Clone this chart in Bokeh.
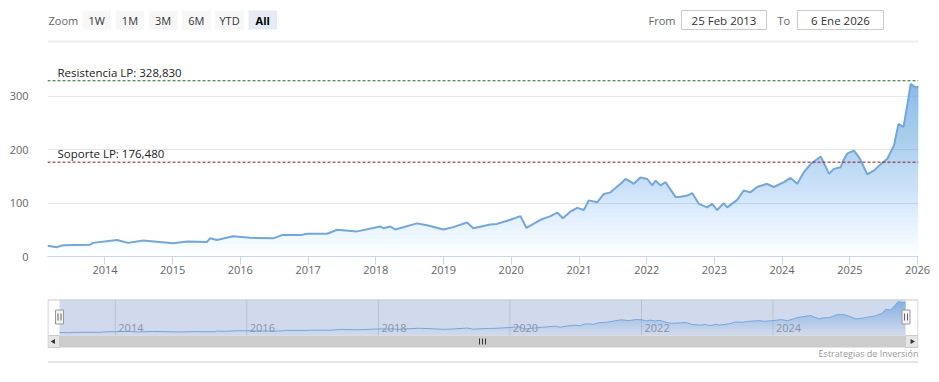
import numpy as np
import pandas as pd
from bokeh.plotting import figure
from bokeh.layouts import column
from bokeh.models import Range1d, FixedTicker, DatetimeTickFormatter, Span, Label
from bokeh.core.properties import value
from bokeh.embed import file_html
from bokeh.resources import INLINE

FONT = "Open Sans"

# ---------------- data ----------------
dates = [
    "2013-02-25", "2013-04-16", "2013-05-20", "2013-10-13", "2013-10-29", "2014-03-07", "2014-05-06",
    "2014-07-26", "2015-01-04", "2015-03-20", "2015-07-04", "2015-07-22", "2015-08-28", "2015-11-23",
    "2016-02-23", "2016-06-27", "2016-08-13", "2016-11-20", "2016-12-26", "2017-04-13", "2017-05-01",
    "2017-06-06", "2017-09-22", "2018-01-25", "2018-02-11", "2018-03-20", "2018-04-16", "2018-08-11",
    "2018-10-04", "2018-12-31", "2019-02-23", "2019-05-08", "2019-06-11", "2019-09-10", "2019-10-17",
    "2019-12-27", "2020-02-20", "2020-03-23", "2020-06-07", "2020-07-31", "2020-09-06", "2020-10-06",
    "2020-11-16", "2020-12-22", "2021-01-27", "2021-02-23", "2021-04-10", "2021-05-15", "2021-06-20",
    "2021-07-26", "2021-08-13", "2021-09-09", "2021-10-06", "2021-10-23", "2021-11-29", "2022-01-04",
    "2022-01-31", "2022-02-18", "2022-03-17", "2022-04-13", "2022-06-06", "2022-07-03", "2022-08-08",
    "2022-09-04", "2022-10-09", "2022-11-23", "2022-12-20", "2023-01-16", "2023-02-21", "2023-03-11",
    "2023-05-04", "2023-06-08", "2023-07-14", "2023-08-19", "2023-10-12", "2023-11-17", "2024-01-11",
    "2024-02-16", "2024-03-23", "2024-04-28", "2024-06-04", "2024-07-28", "2024-09-10", "2024-10-07",
    "2024-11-12", "2024-11-27", "2024-12-19", "2025-01-23", "2025-02-24", "2025-04-05", "2025-05-11",
    "2025-06-07", "2025-07-22", "2025-08-27", "2025-09-20", "2025-10-17", "2025-11-08", "2025-11-25",
    "2025-12-22", "2026-01-06",
]
prices = [
    20, 17.5, 21, 22, 25.5, 31, 25.5,
    30, 25, 28, 27, 34, 31, 38,
    35, 34, 40, 40, 42.5, 42.5, 45,
    50, 47, 56, 53, 56, 50.5, 62,
    58.6, 50.5, 55, 63.6, 53, 60, 61,
    68.7, 75.5, 53.7, 68.7, 75.5, 82, 71.7,
    84, 91, 87, 105, 101.6, 117, 120,
    131, 136, 145, 140, 136, 148, 145,
    133, 142, 133, 139, 111, 112, 114,
    118.5, 98.6, 92, 98.6, 87, 99.8, 92,
    106, 123.5, 120, 130, 136, 130, 139,
    147, 136, 158, 173.5, 187, 155, 164,
    167, 180, 193, 198, 183, 153.5, 161,
    170, 183, 208, 248, 242, 286, 323,
    316, 318,
]
resistance = 328.83
support = 176.48
resistance_label = "Resistencia LP: 328,830"
support_label = "Soporte LP: 176,480"
y_ticks = [0, 100, 200, 300]
x_tick_years = [2014, 2015, 2016, 2017, 2018, 2019, 2020, 2021, 2022, 2023, 2024, 2025, 2026]
nav_tick_years = [2014, 2016, 2018, 2020, 2022, 2024]
zoom_label = "Zoom"
zoom_buttons = ["1W", "1M", "3M", "6M", "YTD", "All"]
selected_button = "All"
from_label, to_label = "From", "To"
from_date_text = "25 Feb 2013"
to_date_text = "6 Ene 2026"
credit_text = "Estrategias de Inversión"

# ---------------- helpers ----------------
t = pd.to_datetime(dates)
xs = t.values.astype("datetime64[ms]")
ys = np.array(prices, dtype=float)
x0_ms = float(t[0].value // 10**6)
x1_ms = float(t[-1].value // 10**6)
year_ms = lambda y: float(pd.Timestamp(f"{y}-01-01").value // 10**6)

W = 939
FL, FR = 47, 918          # plot frame left / right (page px)
SERIES = "#7cb5ec"
LINE = "#74a7d9"


def bare(y_top, y_bot):
    f = figure(width=W, height=y_bot - y_top, x_range=Range1d(FL, FR), y_range=Range1d(y_bot, y_top),
               output_backend="svg", toolbar_location=None, x_axis_location=None, y_axis_location=None,
               min_border_left=FL, min_border_right=W - FR, min_border_top=0, min_border_bottom=0,
               outline_line_color=None)
    f.grid.visible = False
    return f


def ramp_alphas(n, omin, omax):
    O = [omin + (omax - omin) * i / (n - 1) for i in range(n)]
    return [O[0]] + [1 - (1 - O[i]) / (1 - O[i - 1]) for i in range(1, n)]


# ---------------- header (range selector) ----------------
hdr = bare(0, 44)
hdr.text(x=[48], y=[19.5], text=[zoom_label], text_font=value(FONT), text_font_size="11px",
         text_color="#666666", text_align="left", text_baseline="middle")
step, bw = 33.2, 28.5
lefts = [82 + i * step for i in range(len(zoom_buttons))]
hdr.quad(left=lefts, right=[l + bw for l in lefts], top=10, bottom=29,
         fill_color=["#e6ebf5" if b == selected_button else "#f7f7f7" for b in zoom_buttons],
         line_color=None)
for l, b in zip(lefts, zoom_buttons):
    hdr.text(x=[l + bw / 2], y=[19.5], text=[b], text_font=value(FONT), text_font_size="11px",
             text_color="#000000" if b == selected_button else "#333333",
             text_font_style="bold" if b == selected_button else "normal",
             text_align="center", text_baseline="middle")
hdr.text(x=[648, 777], y=[19.5, 19.5], text=[from_label, to_label], text_font=value(FONT),
         text_font_size="11px", text_color="#666666", text_align="left", text_baseline="middle")
hdr.quad(left=[681, 797], right=[766, 883], top=10, bottom=29, fill_color="white",
         line_color="#cccccc", line_width=1)
hdr.text(x=[723.5, 840], y=[19.5, 19.5], text=[from_date_text, to_date_text], text_font=value(FONT),
         text_font_size="11.5px", text_color="#333333", text_align="center", text_baseline="middle")
hdr.segment(x0=[FL], x1=[FR], y0=[41], y1=[41], line_color="#eeeeee", line_width=2)

# ---------------- main chart ----------------
p = figure(width=W, height=246, x_axis_type="datetime", output_backend="svg", toolbar_location=None,
           x_range=Range1d(x0_ms, x1_ms), y_range=Range1d(0, 363),
           min_border_left=FL, min_border_right=W - FR, min_border_top=18, min_border_bottom=34,
           outline_line_color=None)
n = 40
for lev, a in zip(np.linspace(0, 323, n + 1)[:-1], ramp_alphas(n, 0.02, 0.82)):
    p.varea(x=xs, y1=lev, y2=np.maximum(ys, lev), fill_color=SERIES, fill_alpha=a)
p.line(x=xs, y=ys, line_color=LINE, line_width=2)

p.yaxis.ticker = FixedTicker(ticks=y_ticks)
p.yaxis.axis_line_color = None
p.yaxis.major_tick_line_color = None
p.yaxis.minor_tick_line_color = None
p.yaxis.major_label_standoff = 13
p.yaxis.major_label_text_font = FONT
p.yaxis.major_label_text_font_size = "11px"
p.yaxis.major_label_text_color = "#666666"
p.yaxis.major_label_text_baseline = "alphabetic"

p.xaxis.ticker = FixedTicker(ticks=[year_ms(y) for y in x_tick_years])
p.xaxis.formatter = DatetimeTickFormatter(years="%Y", months="%Y", days="%Y", hours="%Y",
                                          hourmin="%Y", minutes="%Y", minsec="%Y", seconds="%Y")
p.xaxis.axis_line_color = "#ccd6eb"
p.xaxis.major_tick_line_color = "#ccd6eb"
p.xaxis.major_tick_in = 0
p.xaxis.major_tick_out = 8
p.xaxis.minor_tick_line_color = None
p.xaxis.major_label_standoff = 1
p.xaxis.major_label_text_font = FONT
p.xaxis.major_label_text_font_size = "11px"
p.xaxis.major_label_text_color = "#666666"

p.xgrid.visible = False
p.ygrid.grid_line_color = "#e6e6e6"

for loc, col, txt in [(resistance, "#1e6b1e", resistance_label), (support, "#8b1a1a", support_label)]:
    p.add_layout(Span(location=loc, dimension="width", line_color=col, line_width=1, line_dash="3 2"))
    p.add_layout(Label(x=x0_ms, y=loc, x_offset=10, y_offset=1, text=txt, text_font=FONT,
                       text_font_size="11.5px", text_color="#222222", text_baseline="bottom"))

# ---------------- navigator + scrollbar ----------------
nav = bare(290, 381)
nl, nr = 59, 905          # navigator series pixel span
ntop, nbot = 299, 334     # navigator series pixel rows
nymax = 345
s = (x1_ms - x0_ms) / (nr - nl)
u = nymax / (nbot - ntop)
nav.extra_x_ranges = {"nx": Range1d(x0_ms - (nl - FL) * s, x1_ms + (FR - nr) * s)}
nav.extra_y_ranges = {"ny": Range1d(-(381 - nbot) * u, nymax + (ntop - 290) * u)}

nav_ticks = [year_ms(y) for y in nav_tick_years]
nav.segment(x0=nav_ticks, x1=nav_ticks, y0=ntop, y1=nbot + 1, line_color="#dcdcdc",
            x_range_name="nx")
m = 12
for lev, a in zip(np.linspace(0, 323, m + 1)[:-1], ramp_alphas(m, 0.03, 0.75)):
    nav.varea(x=xs, y1=lev, y2=np.maximum(ys, lev), fill_color=SERIES, fill_alpha=a,
              x_range_name="nx", y_range_name="ny")
nav.line(x=xs, y=ys, line_color=SERIES, line_width=1, x_range_name="nx", y_range_name="ny")
# selected-range mask
nav.quad(left=nl, right=nr, top=ntop, bottom=nbot + 1, fill_color="#6685c2", fill_alpha=0.3,
         line_color=None)
nav.text(x=nav_ticks, y=[327] * len(nav_ticks), text=[str(y) for y in nav_tick_years],
         x_offset=3, text_font=value(FONT), text_font_size="11px", text_color="#8a93a6",
         text_align="left", text_baseline="middle", x_range_name="nx")
# outline
nav.line(x=[FL + 0.5, FL + 0.5, FR - 0.5, FR - 0.5], y=[335, 299.5, 299.5, 335],
         line_color="#cccccc", line_width=1)
# handles
for cx in (nl, nr + 0.5):
    nav.quad(left=cx - 4, right=cx + 4, top=309.5, bottom=323.5, fill_color="#f2f2f2",
             line_color="#999999", line_width=1)
    nav.segment(x0=[cx - 1.5, cx + 1.5], x1=[cx - 1.5, cx + 1.5], y0=313, y1=320,
                line_color="#666666", line_width=1)
# scrollbar
nav.quad(left=nl, right=nr, top=335, bottom=347, fill_color="#cccccc", line_color=None)
nav.quad(left=[FL + 0.5, nr], right=[nl, FR - 0.5], top=335, bottom=347, fill_color="#e6e6e6",
         line_color="#cccccc", line_width=1)
nav.scatter(x=[(FL + nl) / 2, (nr + FR) / 2], y=[341, 341], marker="triangle", size=5,
            angle=[np.pi / 2, -np.pi / 2], fill_color="#333333", line_color=None)
mid = (nl + nr) / 2
nav.segment(x0=[mid - 3, mid, mid + 3], x1=[mid - 3, mid, mid + 3], y0=338, y1=344,
            line_color="#333333", line_width=1)
# credit and bottom rule
nav.text(x=[FR], y=[353], text=[credit_text], text_font=value(FONT), text_font_size="9px",
         text_color="#999999", text_align="right", text_baseline="middle")
nav.segment(x0=[FL], x1=[FR], y0=[361.5], y1=[361.5], line_color="#dddddd", line_width=1.5)

layout = column(hdr, p, nav, spacing=0)
open("out.html", "w").write(file_html(layout, INLINE))
